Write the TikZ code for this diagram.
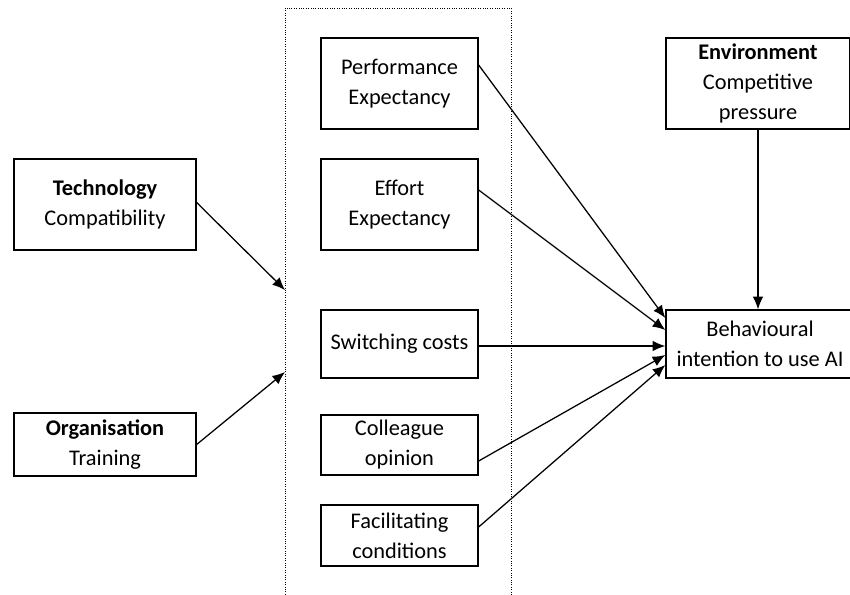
\documentclass[tikz,border=0pt]{standalone}
\usepackage{fontspec}
\setmainfont{Carlito}
\usetikzlibrary{arrows.meta,calc}

\begin{document}
\begin{tikzpicture}[
    x=0.025cm, y=-0.025cm,
    box/.style={
        draw,
        line width=0.9pt,
        align=center,
        inner sep=0pt,
        minimum width=3.925cm,
        minimum height=2.275cm,
        font=\fontsize{15.9}{21.3}\selectfont
    },
    outer/.style={box, minimum width=4.55cm},
    link/.style={->, line width=0.9pt},
    >={Latex[length=9pt,width=7.5pt]}
]
\clip (0,0) rectangle (850,594);

\node[outer] (tech) at (105,204.5) {\textbf{Technology}\\Compatibility};
\node[outer, minimum height=1.575cm] (org) at (105,444.5) {\textbf{Organisation}\\Training};

\draw[densely dotted, line width=0.7pt] (285,8) rectangle (511,620);
\coordinate (techin) at (285,290);
\coordinate (orgin) at (285,372);

\node[box] (perf) at (399.5,83.5) {Performance\\Expectancy};
\node[box] (effort) at (399.5,204.5) {Effort\\Expectancy};
\node[box, minimum height=1.7cm] (switch) at (399.5,344) {Switching costs};
\node[box, minimum height=1.5cm] (colleague) at (399.5,445) {Colleague\\opinion};
\node[box, minimum height=1.525cm] (facil) at (399.5,535.5) {Facilitating\\conditions};

\node[box, minimum width=4.6cm] (env) at (758,83.5) {\textbf{Environment}\\Competitive\\pressure};
\node[box, minimum width=4.7cm, minimum height=1.7cm] (intent) at (760,344) {Behavioural\\intention to use AI};

\draw[link] ($(tech.east)+(0,-2)$) -- (techin);
\draw[link] (org.east) -- (orgin);

\draw[link] ($(perf.east)+(0,-18.5)$) -- ($(intent.west)+(0,-26)$);
\draw[link] ($(effort.east)+(0,-14.5)$) -- ($(intent.west)+(0,-14)$);
\draw[link] ($(switch.east)+(0,2)$) -- ($(intent.west)+(0,2)$);
\draw[link] ($(colleague.east)+(0,16)$) -- ($(intent.west)+(0,11)$);
\draw[link] ($(facil.east)+(0,-8.5)$) -- ($(intent.west)+(0,21)$);
\draw[link] (env.south) -- (env.south |- intent.north);

\end{tikzpicture}
\end{document}
